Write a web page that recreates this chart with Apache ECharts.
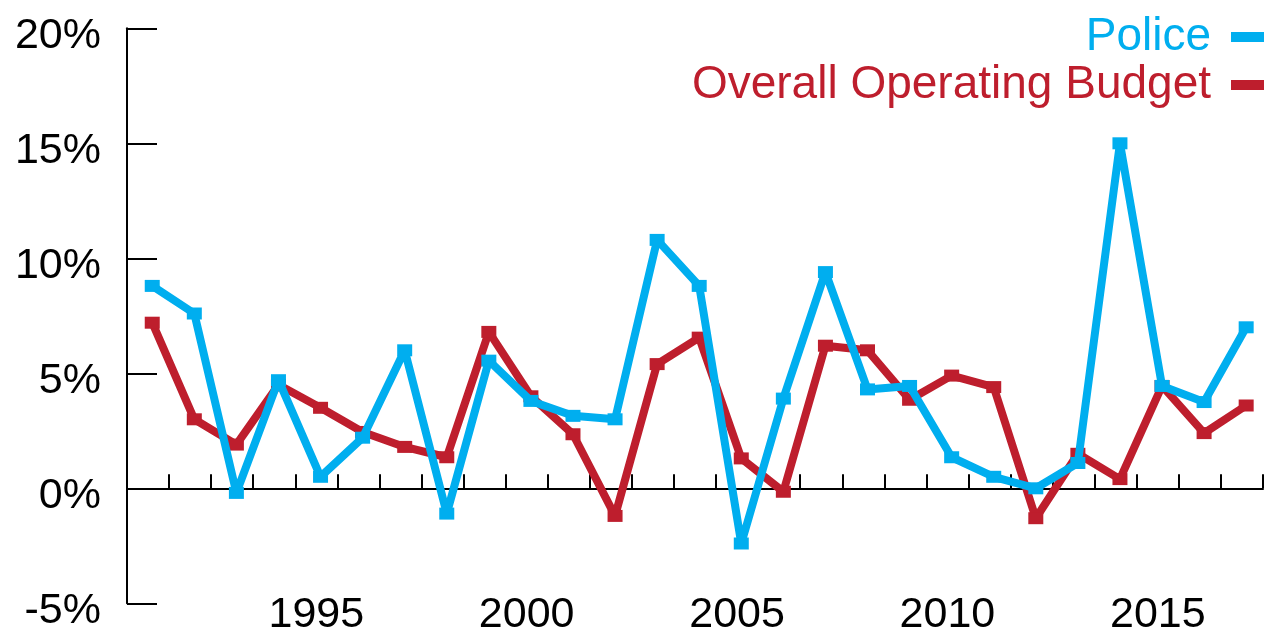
<!DOCTYPE html>
<html>
<head>
<meta charset="utf-8">
<script src="https://cdn.jsdelivr.net/npm/echarts@6/dist/echarts.min.js"></script>
<style>
html,body{margin:0;padding:0;background:#fff;}
#chart{width:1265px;height:629px;}
</style>
</head>
<body>
<div id="chart"></div>
<script>
const years = [1991,1992,1993,1994,1995,1996,1997,1998,1999,2000,2001,2002,2003,2004,2005,2006,2007,2008,2009,2010,2011,2012,2013,2014,2015,2016,2017];
const police = [8.8,7.6,-0.2,4.7,0.5,2.2,6.0,-1.1,5.55,3.8,3.15,3.0,10.8,8.8,-2.4,3.9,9.4,4.3,4.45,1.35,0.5,0.0,1.1,15.0,4.45,3.75,7.0];
const overall = [7.2,3.0,1.9,4.5,3.5,2.45,1.8,1.35,6.8,4.0,2.35,-1.2,5.4,6.55,1.3,-0.15,6.2,6.0,3.85,4.9,4.4,-1.3,1.5,0.4,4.45,2.4,3.6];
const yTicks = [-5,0,5,10,15,20];
const labelYears = [1995,2000,2005,2010,2015];

const BLUE = '#00AEEF';
const RED = '#BE1E2D';
const FONT = '"Liberation Sans", Arial, Helvetica, sans-serif';

const chart = echarts.init(document.getElementById('chart'), null, {renderer:'canvas'});
const cats = years.map(String);
const pair = arr => years.map((y,i)=>[y, arr[i]]);

chart.setOption({
  animation:false,
  backgroundColor:'#fff',
  grid:{left:127, right:2, top:28.3, bottom:25.7, containLabel:false, outerBoundsMode:'none'},
  legend:{
    orient:'vertical', right:1, top:13, itemGap:0, padding:0,
    align:'right', icon:'rect', itemWidth:33, itemHeight:10,
    selectedMode:false,
    textStyle:{fontFamily:FONT, fontSize:46, lineHeight:40, padding:[0,15,8,0]},
    data:[
      {name:'Police', textStyle:{color:BLUE}},
      {name:'Overall Operating Budget', textStyle:{color:RED}}
    ]
  },
  xAxis:[
    {
      type:'category', data:cats, boundaryGap:true, position:'bottom',
      axisLine:{show:true, onZero:true, lineStyle:{color:'#000', width:2}},
      axisTick:{show:true, inside:true, length:14, interval:0, lineStyle:{color:'#000', width:2}},
      axisLabel:{show:false}, splitLine:{show:false}
    },
    {
      type:'category', data:cats, boundaryGap:true, position:'bottom',
      axisLine:{show:false, onZero:false}, axisTick:{show:false},
      axisLabel:{show:true, interval:0, margin:-10, color:'#000', fontFamily:FONT, fontSize:43,
        formatter:(v)=> labelYears.indexOf(Number(v))>=0 ? v : ''},
      splitLine:{show:false}
    },
    {
      type:'value', show:false, min:1990.4, max:2017.4, position:'bottom',
      axisLine:{onZero:false}, splitLine:{show:false}
    }
  ],
  yAxis:{
    type:'value', min:yTicks[0], max:yTicks[yTicks.length-1], interval:5,
    axisLine:{show:true, onZero:false, lineStyle:{color:'#000', width:2}},
    axisTick:{show:true, inside:true, length:30, lineStyle:{color:'#000', width:2}},
    axisLabel:{show:true, margin:26, color:'#000', fontFamily:FONT, fontSize:43, formatter:'{value}%',
      verticalAlign:'top', lineHeight:15},
    splitLine:{show:false}
  },
  series:[
    {
      name:'Overall Operating Budget', type:'line', xAxisIndex:2, data:pair(overall),
      symbol:'rect', symbolSize:[15,12], showSymbol:true,
      lineStyle:{color:RED, width:8}, itemStyle:{color:RED}, z:2
    },
    {
      name:'Police', type:'line', xAxisIndex:2, data:pair(police),
      symbol:'rect', symbolSize:[15,12], showSymbol:true,
      lineStyle:{color:BLUE, width:8}, itemStyle:{color:BLUE}, z:3
    }
  ]
});
</script>
</body>
</html>
